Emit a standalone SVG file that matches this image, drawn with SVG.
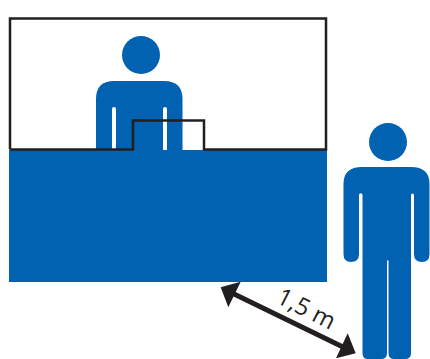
<svg xmlns="http://www.w3.org/2000/svg" width="430" height="359" viewBox="0 0 430 359">
<style>
.b{fill:#0062b0}
.w{fill:#fff}
.k{fill:none;stroke:#231f20;stroke-width:2.500}
.a{fill:#231f20}
.t{font-family:"Open Sans",sans-serif;font-size:24px;fill:#231f20}
</style>
<rect width="430" height="359" fill="#fff"/>
<g id="screen">
<rect class="b" x="9" y="150" width="318" height="132"/>
</g>
<g id="person-behind">
<circle class="b" cx="141" cy="55" r="19"/>
<path class="b" d="M96 150V99Q96 81 114 81H164Q182.500 81 182.500 99V150Z"/>
<path class="w" d="M112 150V109a2 2 0 0 1 4 0V150ZM163 150V109a2 2 0 0 1 4 0V150Z"/>
</g>
<g id="frame">
<path class="k" d="M10 149.500V18.500H326V149.500H204V120.500H133V149.500H10"/>
</g>
<g id="person-front">
<circle class="b" cx="388" cy="142" r="19"/>
<path class="b" d="M343.500 184Q343.500 167 362 167H411Q429.500 167 429.500 184V254Q429.500 262 422 262Q414 262 414 254V195a1.500 1.500 0 0 0-3 0V353Q411 359 405 359H394Q388.500 359 388.500 353V261a.75.750 0 0 0-1.500 0V353Q387 359 381 359H368Q362.500 359 362.500 353V195a1.750 1.750 0 0 0-3.500 0V254Q359 262 351 262Q343.500 262 343.500 254Z"/>
</g>
<g id="connectors">
<path d="M232 293L345 348" fill="none" stroke="#231f20" stroke-width="5"/>
<polygon class="a" points="220.700,287.300 240.700,281.700 228.300,307.300"/>
<polygon class="a" points="355.700,353.300 347.700,333.300 336,358.300"/>
<text class="t" transform="translate(275,302) rotate(27)">1,5 m</text>
</g>
</svg>
